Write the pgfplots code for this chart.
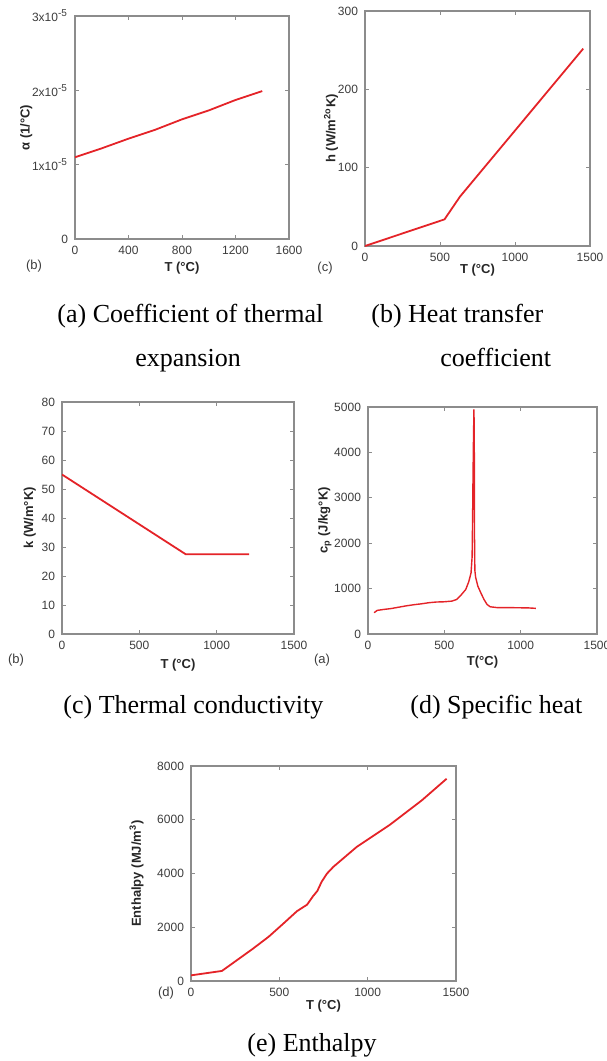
\documentclass[border=0pt]{standalone}
\usepackage{fontspec}
\setmainfont{Liberation Serif}
\setsansfont{Liberation Sans}
\usepackage{pgfplots}
\pgfplotsset{compat=1.18}

\definecolor{redline}{RGB}{228,35,40}
\definecolor{framegray}{RGB}{140,140,140}
\definecolor{ticktext}{RGB}{60,60,60}

\pgfplotsset{
  panel/.style={
    scale only axis, anchor=south west,
    axis line style={draw=framegray, line width=0.6pt},
    every tick/.style={draw=framegray, line width=0.5pt},
    major tick length=2pt,
    tick align=inside,
    tick label style={font=\sffamily\fontsize{6}{7}\selectfont, text=ticktext},
    label style={font=\sffamily\bfseries\fontsize{6.5}{8}\selectfont, text=black!85},
    /pgf/number format/assume math mode=true,
    /pgf/number format/1000 sep={},
    scaled ticks=false,
  },
  curve/.style={draw=redline, line width=0.9pt, no markers},
}

\begin{document}
\begin{tikzpicture}
\path[use as bounding box] (0,0) rectangle (303pt,-530.5pt);

% (a) thermal expansion, values in 1e-5 /°C
\begin{axis}[panel, at={(37.5pt,-119.5pt)}, width=107pt, height=111.5pt,
  xmin=0, xmax=1600, ymin=0, ymax=3,
  xtick={0,400,800,1200,1600}, ytick={0,1,2,3},
  yticklabels={0,1x10\textsuperscript{-5},2x10\textsuperscript{-5},3x10\textsuperscript{-5}},
  xlabel={T (°C)}, ylabel={α (1/°C)},
  xlabel shift=-3pt, ylabel shift=-7pt]
\addplot[curve] coordinates {
  (0,1.10) (200,1.22) (400,1.35) (600,1.47) (800,1.61) (1000,1.73) (1200,1.87) (1400,1.99)
};
\end{axis}

% (b) heat transfer coefficient
\begin{axis}[panel, at={(182.5pt,-123pt)}, width=112.5pt, height=117.5pt,
  xmin=0, xmax=1500, ymin=0, ymax=300,
  xtick={0,500,1000,1500}, ytick={0,100,200,300},
  xlabel={T (°C)}, ylabel={h (W/m\textsuperscript{2o}K)},
  xlabel shift=-5.5pt, ylabel shift=-7pt]
\addplot[curve] coordinates {
  (0,0) (530,34) (633,63) (1455,252)
};
\end{axis}

% (c) thermal conductivity
\begin{axis}[panel, at={(31pt,-317pt)}, width=116pt, height=116pt,
  xmin=0, xmax=1500, ymin=0, ymax=80,
  xtick={0,500,1000,1500}, ytick={0,10,...,80},
  xlabel={T (°C)}, ylabel={k (W/m°K)},
  xlabel shift=-2pt, ylabel shift=-4pt]
\addplot[curve] coordinates {
  (0,55) (800,27.5) (1210,27.5)
};
\end{axis}

% (d) specific heat
\begin{axis}[panel, at={(184pt,-317pt)}, width=114.5pt, height=113.5pt,
  xmin=0, xmax=1500, ymin=0, ymax=5000,
  xtick={0,500,1000,1500}, ytick={0,1000,...,5000},
  xlabel={T(°C)}, ylabel={c\textsubscript{p} (J/kg°K)},
  xlabel shift=-3.5pt, ylabel shift=-5.5pt]
\addplot[draw=redline, line width=0.7pt, no markers] coordinates {
  (40,470) (60,520) (100,540) (150,560) (200,590) (250,620) (300,645) (350,665)
  (400,690) (450,705) (500,710) (550,725) (580,760) (610,860) (640,980) (660,1150)
  (675,1350) (682,1700) (685,2500) (688,3500) (691,4300) (694,4950) (696,4400)
  (697,3000) (698,2000) (700,1400) (705,1250) (720,1050) (740,900) (760,760)
  (780,650) (800,600) (850,580) (950,580) (1050,575) (1100,565)
};
\end{axis}

% (e) enthalpy
\begin{axis}[panel, at={(95.5pt,-490.5pt)}, width=132.5pt, height=107.5pt,
  xmin=0, xmax=1500, ymin=0, ymax=8000,
  xtick={0,500,1000,1500}, ytick={0,2000,...,8000},
  xlabel={T (°C)}, ylabel={Enthalpy (MJ/m\textsuperscript{3})},
  xlabel shift=-5pt]
\addplot[curve] coordinates {
  (0,210) (175,375) (260,775) (350,1200) (440,1650) (525,2150) (600,2600)
  (657,2840) (690,3150) (715,3350) (740,3700) (770,4000) (806,4250) (938,4990)
  (1127,5820) (1306,6720) (1447,7527)
};
\end{axis}

% panel letters
\begin{scope}[every node/.style={font=\sffamily\fontsize{6.5}{8}\selectfont, text=ticktext}]
\node at (17pt,-133pt) {(b)};
\node at (162.5pt,-134pt) {(c)};
\node at (8pt,-330pt) {(b)};
\node at (161pt,-330pt) {(a)};
\node at (83pt,-496.5pt) {(d)};
\end{scope}

% captions
\begin{scope}[every node/.style={font=\fontsize{13}{15}\selectfont, anchor=base west, inner sep=0pt}]
\node at (28.5pt,-161pt) {(a) Coefficient of thermal};
\node at (67.5pt,-183pt) {expansion};
\node at (185.5pt,-161pt) {(b) Heat transfer};
\node at (220pt,-183pt) {coefficient};
\node at (31.5pt,-356.5pt) {(c) Thermal conductivity};
\node at (205pt,-356.5pt) {(d) Specific heat};
\node at (123.5pt,-525.5pt) {(e) Enthalpy};
\end{scope}
\end{tikzpicture}
\end{document}
